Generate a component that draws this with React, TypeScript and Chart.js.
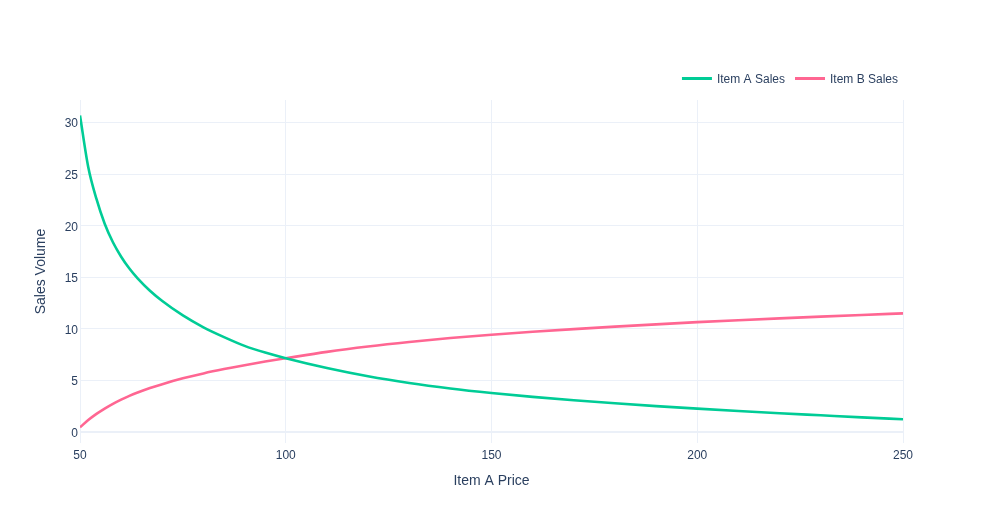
import React, { useEffect, useRef } from "react";
import { Chart, registerables } from "chart.js";

Chart.register(...registerables);

const prices = [50, 52, 54, 56, 58, 60, 62, 64, 67, 70, 75, 80, 85, 90, 95, 100, 110, 120, 130, 140, 150, 160, 170, 180, 190, 200, 210, 220, 230, 240, 250];
const itemASales = [30.7, 25.7, 22.6, 20.2, 18.4, 17.0, 15.85, 14.9, 13.7, 12.7, 11.3, 10.15, 9.2, 8.35, 7.7, 7.15, 6.2, 5.4, 4.75, 4.22, 3.78, 3.4, 3.07, 2.78, 2.51, 2.26, 2.03, 1.82, 1.62, 1.42, 1.23];
const itemBSales = [0.45, 1.15, 1.75, 2.27, 2.73, 3.14, 3.5, 3.82, 4.26, 4.64, 5.2, 5.68, 6.1, 6.48, 6.83, 7.15, 7.77, 8.29, 8.73, 9.11, 9.43, 9.72, 9.98, 10.22, 10.44, 10.65, 10.84, 11.02, 11.19, 11.35, 11.5];
const xTicks = [50, 100, 150, 200, 250];
const yTicks = [0, 5, 10, 15, 20, 25, 30];
const seriesNames = ["Item A Sales", "Item B Sales"];
const seriesColors = ["#00cc96", "#ff6692"];

const FONT = "'Liberation Sans', Arial, sans-serif";
const TEXT = "#2a3f5f";
const GRID = "#ebf0f8";

const legendPlugin = {
  id: "customLegend",
  afterDraw(chart: any) {
    const ctx = chart.ctx;
    const items = chart.data.datasets;
    ctx.save();
    ctx.font = `12px ${FONT}`;
    ctx.textBaseline = "middle";
    let cursor = chart.chartArea.right - 5;
    const y = 78.5;
    for (let i = items.length - 1; i >= 0; i--) {
      const ds = items[i];
      const w = ctx.measureText(ds.label).width;
      const tx = cursor - w;
      ctx.fillStyle = TEXT;
      ctx.textAlign = "left";
      ctx.fillText(ds.label, tx, y + 1);
      const x2 = tx - 5;
      const x1 = x2 - 30;
      ctx.strokeStyle = ds.borderColor;
      ctx.lineWidth = 3;
      ctx.beginPath();
      ctx.moveTo(x1, y);
      ctx.lineTo(x2, y);
      ctx.stroke();
      cursor = x1 - 10;
    }
    ctx.restore();
  },
};

export default function App() {
  const ref = useRef<HTMLCanvasElement | null>(null);
  useEffect(() => {
    document.body.style.margin = "0";
    const canvas = ref.current;
    if (!canvas) return;
    const chart = new Chart(canvas, {
      type: "line",
      data: {
        datasets: [
          {
            label: seriesNames[0],
            data: prices.map((x, i) => ({ x, y: itemASales[i] })),
            borderColor: seriesColors[0],
            backgroundColor: seriesColors[0],
            borderWidth: 2.6,
            pointRadius: 0,
            cubicInterpolationMode: "monotone",
          },
          {
            label: seriesNames[1],
            data: prices.map((x, i) => ({ x, y: itemBSales[i] })),
            borderColor: seriesColors[1],
            backgroundColor: seriesColors[1],
            borderWidth: 2.6,
            pointRadius: 0,
            cubicInterpolationMode: "monotone",
          },
        ],
      },
      options: {
        responsive: false,
        animation: false,
        layout: { padding: { top: 100, right: 80, left: 0, bottom: 0 } },
        plugins: { legend: { display: false }, tooltip: { enabled: false } },
        scales: {
          x: {
            type: "linear",
            min: 50,
            max: 250,
            afterBuildTicks: (s: any) => {
              s.ticks = xTicks.map((v) => ({ value: v }));
            },
            afterFit: (s: any) => {
              s.height = 82;
            },
            grid: { color: GRID, lineWidth: 1, drawTicks: false },
            border: { display: false },
            ticks: { color: TEXT, font: { family: FONT, size: 12 }, padding: 5, maxRotation: 0 },
            title: {
              display: true,
              text: "Item A Price",
              color: TEXT,
              font: { family: FONT, size: 14 },
              padding: { top: 4, bottom: 35 },
            },
          },
          y: {
            type: "linear",
            min: -1.07,
            max: 32.2,
            afterBuildTicks: (s: any) => {
              s.ticks = yTicks.map((v) => ({ value: v }));
            },
            afterFit: (s: any) => {
              s.width = 80;
            },
            grid: {
              color: GRID,
              lineWidth: (c: any) => (c.tick && c.tick.value === 0 ? 2 : 1),
              drawTicks: false,
            },
            border: { display: false },
            ticks: { color: TEXT, font: { family: FONT, size: 12 }, padding: 2, labelOffset: 1.5 },
            title: {
              display: true,
              text: "Sales Volume",
              color: TEXT,
              font: { family: FONT, size: 14 },
              padding: { top: 32.6, bottom: 0 },
            },
          },
        },
      },
      plugins: [legendPlugin],
    } as any);
    return () => chart.destroy();
  }, []);
  return (
    <div style={{ position: "absolute", left: 0, top: 0, width: 983, height: 525, background: "#fff" }}>
      <canvas ref={ref} width={983} height={525} style={{ width: 983, height: 525 }} />
    </div>
  );
}
